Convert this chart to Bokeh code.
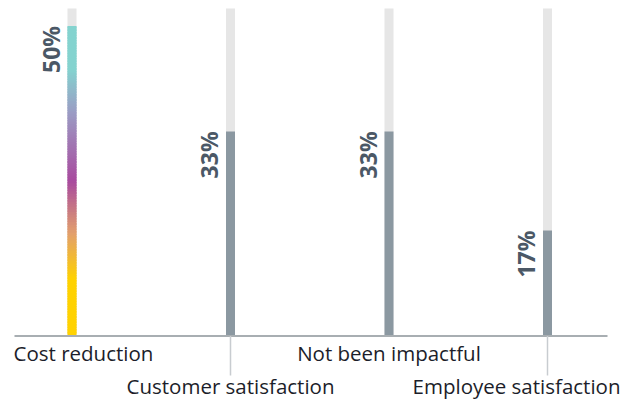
import numpy as np
from bokeh.plotting import figure
from bokeh.models import Range1d
from bokeh.core.properties import value
from bokeh.embed import file_html
from bokeh.resources import INLINE

# ---- data ----
categories = ["Cost reduction", "Customer satisfaction", "Not been impactful", "Employee satisfaction"]
percent = [50, 33, 33, 17]
pct_labels = ["50%", "33%", "33%", "17%"]

# ---- layout (page pixels) ----
W, H = 630, 399
FRAME_X0, FRAME_Y0 = 0, 0
BAR0_PX, BAR_STEP_PX = 71.5, 158.5
AXIS_PY, PX_PER_PCT = 335.5, 6.2
TRACK_TOP_PY = 8

def X(px):
    return (px - BAR0_PX) / BAR_STEP_PX

def Y(py):
    return (AXIS_PY - py) / PX_PER_PCT

p = figure(width=W, height=H, output_backend="svg", toolbar_location=None,
           x_range=Range1d(X(FRAME_X0), X(FRAME_X0 + W)),
           y_range=Range1d(Y(FRAME_Y0 + H), Y(FRAME_Y0)),
           min_border=0, min_border_left=0, min_border_right=0,
           min_border_top=0, min_border_bottom=0)
p.axis.visible = False
p.grid.visible = False
p.outline_line_color = None
p.background_fill_color = "white"
p.border_fill_color = "white"

xs = list(range(len(categories)))
bw = 9 / BAR_STEP_PX

# background tracks
p.vbar(x=xs, bottom=0, top=[Y(TRACK_TOP_PY)] * len(xs), width=bw,
       fill_color="#e6e6e6", line_color=None)

# grey value bars (all but highlighted first)
p.vbar(x=xs[1:], bottom=0, top=percent[1:], width=bw,
       fill_color="#8b98a1", line_color=None)

# gradient bar for first category
stops = [(0.0, "#ffd200"), (0.18, "#ffd200"), (0.33, "#e3a06c"), (0.50, "#a84a9e"),
         (0.72, "#9b9cc4"), (0.86, "#84d3cf"), (1.0, "#84d3cf")]

def hex2rgb(h):
    h = h.lstrip("#")
    return np.array([int(h[i:i + 2], 16) for i in (0, 2, 4)], dtype=float)

def color_at(f):
    for (f0, c0), (f1, c1) in zip(stops[:-1], stops[1:]):
        if f0 <= f <= f1:
            t = 0 if f1 == f0 else (f - f0) / (f1 - f0)
            c = hex2rgb(c0) * (1 - t) + hex2rgb(c1) * t
            return "#%02x%02x%02x" % tuple(int(round(v)) for v in c)
    return stops[-1][1]

N = 120
edges = np.linspace(0, percent[0], N + 1)
fr = (edges[:-1] + edges[1:]) / 2 / percent[0]
tops = np.minimum(edges[1:] + 0.3, percent[0])
p.vbar(x=[xs[0]] * N, bottom=edges[:-1], top=tops, width=bw,
       fill_color=[color_at(f) for f in fr], line_color=None)

# percent labels (rotated)
p.text(x=[x + X(BAR0_PX - 21.5) for x in xs], y=percent, text=pct_labels,
       angle=np.pi / 2, text_align="right", text_baseline="alphabetic",
       text_font=value("Open Sans"), text_font_style="bold",
       text_font_size="23px", text_color="#4b5866")

# axis line
p.segment(x0=[X(14)], y0=[0], x1=[X(607)], y1=[0], line_color="#a8aeb2", line_width=2)

# tick lines for staggered labels
p.segment(x0=[xs[1], xs[3]], y0=[0, 0], x1=[xs[1], xs[3]], y1=[Y(375), Y(375)],
          line_color="#c8ccd0", line_width=1.5)

# category labels
row1, row2 = Y(352.5), Y(385)
font = value("Open Sans")
fs = "20.5px"
col = "#1c1e2a"
p.text(x=[X(13)], y=[row1], text=[categories[0]], text_align="left",
       text_baseline="alphabetic", text_font=font, text_font_size=fs, text_color=col)
p.text(x=[xs[1]], y=[row2], text=[categories[1]], text_align="center",
       text_baseline="alphabetic", text_font=font, text_font_size=fs, text_color=col)
p.text(x=[xs[2]], y=[row1], text=[categories[2]], text_align="center",
       text_baseline="alphabetic", text_font=font, text_font_size=fs, text_color=col)
p.text(x=[X(620)], y=[row2], text=[categories[3]], text_align="right",
       text_baseline="alphabetic", text_font=font, text_font_size=fs, text_color=col)

open("out.html", "w").write(file_html(p, INLINE))
